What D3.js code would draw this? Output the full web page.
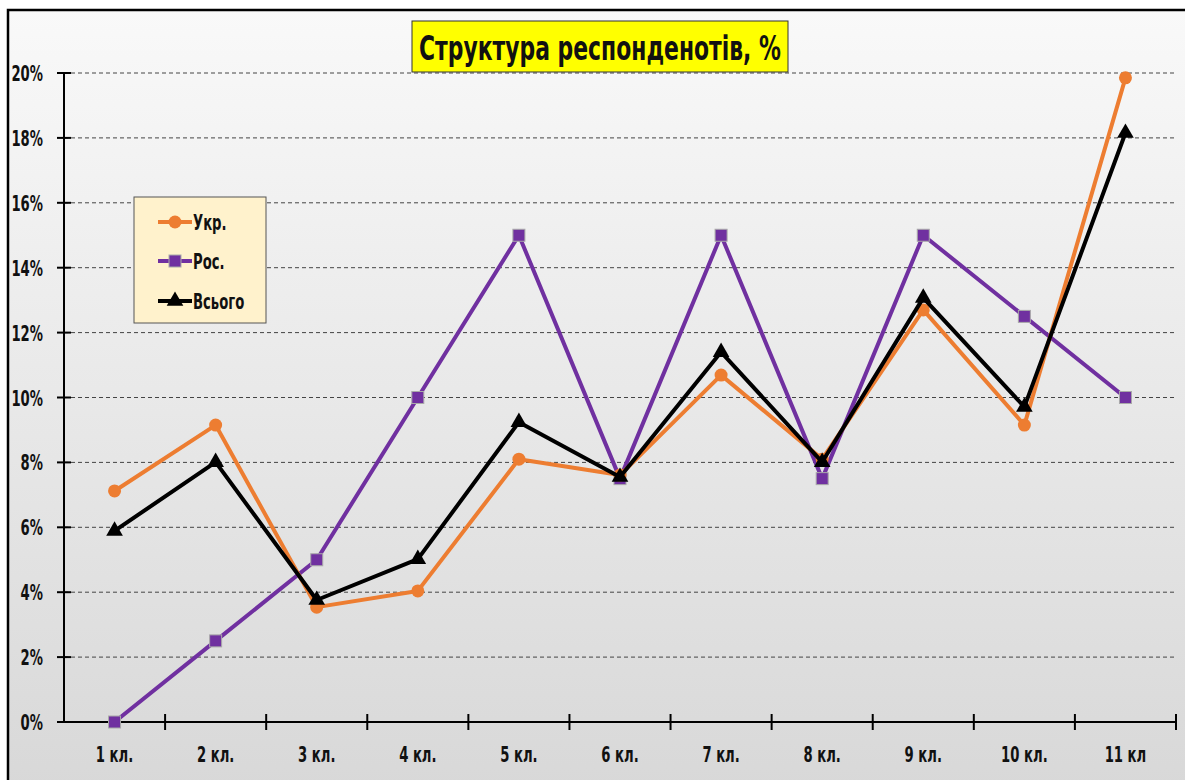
<!DOCTYPE html>
<html lang="uk">
<head>
<meta charset="UTF-8" />
<title>Структура респонденотів</title>
<script src="https://cdn.jsdelivr.net/npm/d3@7"></script>
<style>
  body { margin: 0; background: #fff; }
  text { font-family: "DejaVu Sans", sans-serif; font-weight: bold; fill: #111; }
</style>
</head>
<body>
<svg id="chart" width="1185" height="780"></svg>
<script>
var categories = ["1 кл.", "2 кл.", "3 кл.", "4 кл.", "5 кл.", "6 кл.", "7 кл.", "8 кл.", "9 кл.", "10 кл.", "11 кл"];
var ukr = [7.12, 9.15, 3.54, 4.04, 8.10, 7.61, 10.69, 8.10, 12.70, 9.15, 19.85];
var ros = [0, 2.5, 5.0, 10.0, 15.0, 7.5, 15.0, 7.5, 15.0, 12.5, 10.0];
var total = [5.89, 8.01, 3.76, 5.02, 9.24, 7.55, 11.40, 8.01, 13.07, 9.71, 18.15];
var yTicks = [0, 2, 4, 6, 8, 10, 12, 14, 16, 18, 20];
var seriesNames = ["Укр.", "Рос.", "Всього"];

var SX = 0.6; // horizontal squeeze, to look like a condensed font

var svg = d3.select("#chart");

// condensed text helper
function ctext(g, px, py, str, size, anchor) {
  return g.append("text")
    .attr("transform", "translate(" + px + "," + py + ") scale(" + SX + ",1)")
    .attr("text-anchor", anchor || "start")
    .attr("font-size", size)
    .text(str);
}

// background with gradient
var defs = svg.append("defs");
var grad = defs.append("linearGradient").attr("id", "bg").attr("x1", 0).attr("y1", 0).attr("x2", 0).attr("y2", 1);
grad.append("stop").attr("offset", "0%").attr("stop-color", "#f9f9f9");
grad.append("stop").attr("offset", "100%").attr("stop-color", "#d8d8d8");

svg.append("rect")
  .attr("x", 8).attr("y", 10).attr("width", 1190).attr("height", 780)
  .attr("fill", "url(#bg)").attr("stroke", "#000").attr("stroke-width", 2.5);

var x = d3.scaleBand().domain(categories).range([64, 1176]);
var y = d3.scaleLinear().domain([0, 20]).range([722, 73]);

// gridlines
svg.append("g").selectAll("line")
  .data(yTicks.filter(function(d){ return d > 0; }))
  .enter().append("line")
  .attr("x1", 64).attr("x2", 1176)
  .attr("y1", function(d){ return y(d); }).attr("y2", function(d){ return y(d); })
  .attr("stroke", "#444").attr("stroke-width", 1).attr("stroke-dasharray", "4,3");

// y axis
var yAxis = svg.append("g");
yAxis.append("line").attr("x1", 64).attr("x2", 64).attr("y1", y(20)).attr("y2", y(0))
  .attr("stroke", "#000").attr("stroke-width", 2);
yAxis.selectAll(".yt").data(yTicks).enter().append("line")
  .attr("x1", 57).attr("x2", 71)
  .attr("y1", function(d){ return y(d); }).attr("y2", function(d){ return y(d); })
  .attr("stroke", "#000").attr("stroke-width", 2);
yTicks.forEach(function(d){
  ctext(yAxis, 43, y(d) + 8, d + "%", 22, "end");
});

// x axis
var xAxis = svg.append("g");
xAxis.append("line").attr("x1", 57).attr("x2", 1176).attr("y1", y(0)).attr("y2", y(0))
  .attr("stroke", "#000").attr("stroke-width", 2);
var bounds = categories.map(function(c){ return x(c) + x.bandwidth(); });
xAxis.selectAll(".xt").data(bounds).enter().append("line")
  .attr("x1", function(d){ return d; }).attr("x2", function(d){ return d; })
  .attr("y1", y(0) - 8).attr("y2", y(0) + 8).attr("stroke", "#000").attr("stroke-width", 2);
categories.forEach(function(c){
  ctext(xAxis, x(c) + x.bandwidth() / 2, y(0) + 40, c, 22, "middle");
});

var cx = function(d, i){ return x(categories[i]) + x.bandwidth() / 2; };
var line = d3.line().x(cx).y(function(d){ return y(d); });

// Рос.
svg.append("path").datum(ros).attr("d", line).attr("fill", "none")
  .attr("stroke", "#7030a0").attr("stroke-width", 4).attr("stroke-linejoin", "round");
svg.append("g").selectAll("rect").data(ros).enter().append("rect")
  .attr("x", function(d, i){ return cx(d, i) - 6; })
  .attr("y", function(d){ return y(d) - 6; })
  .attr("width", 12).attr("height", 12)
  .attr("fill", "#7030a0").attr("stroke", "#a9a9a9").attr("stroke-width", 1);

// Укр.
svg.append("path").datum(ukr).attr("d", line).attr("fill", "none")
  .attr("stroke", "#ed7d31").attr("stroke-width", 4).attr("stroke-linejoin", "round");
svg.append("g").selectAll("circle").data(ukr).enter().append("circle")
  .attr("cx", cx).attr("cy", function(d){ return y(d); }).attr("r", 6.5)
  .attr("fill", "#ed7d31");

// Всього
var tri = d3.symbol().type(d3.symbolTriangle).size(120);
svg.append("path").datum(total).attr("d", line).attr("fill", "none")
  .attr("stroke", "#000").attr("stroke-width", 4).attr("stroke-linejoin", "round");
svg.append("g").selectAll("path").data(total).enter().append("path")
  .attr("d", tri)
  .attr("transform", function(d, i){ return "translate(" + cx(d, i) + "," + y(d) + ")"; })
  .attr("fill", "#000");

// title
var tg = svg.append("g");
tg.append("rect").attr("x", 412).attr("y", 21).attr("width", 376).attr("height", 51)
  .attr("fill", "#ffff00").attr("stroke", "#333").attr("stroke-width", 1);
tg.append("text").attr("x", 419).attr("y", 60)
  .attr("font-size", 34)
  .attr("textLength", 362).attr("lengthAdjust", "spacingAndGlyphs")
  .text("Структура респонденотів, %");

// legend
var lg = svg.append("g");
lg.append("rect").attr("x", 134).attr("y", 197).attr("width", 132).attr("height", 126)
  .attr("fill", "#fff2cc").attr("stroke", "#555").attr("stroke-width", 1);
var legendY = [222, 261, 301];
var legendColors = ["#ed7d31", "#7030a0", "#000"];
seriesNames.forEach(function(name, i){
  var ly = legendY[i];
  lg.append("line").attr("x1", 158).attr("x2", 192).attr("y1", ly).attr("y2", ly)
    .attr("stroke", legendColors[i]).attr("stroke-width", 4);
  if (i === 0) {
    lg.append("circle").attr("cx", 175).attr("cy", ly).attr("r", 6.5).attr("fill", legendColors[i]);
  } else if (i === 1) {
    lg.append("rect").attr("x", 169).attr("y", ly - 6).attr("width", 12).attr("height", 12)
      .attr("fill", legendColors[i]).attr("stroke", "#a9a9a9");
  } else {
    lg.append("path").attr("d", tri).attr("transform", "translate(175," + ly + ")").attr("fill", "#000");
  }
  ctext(lg, 193, ly + 8, name, 22, "start");
});
</script>
</body>
</html>
